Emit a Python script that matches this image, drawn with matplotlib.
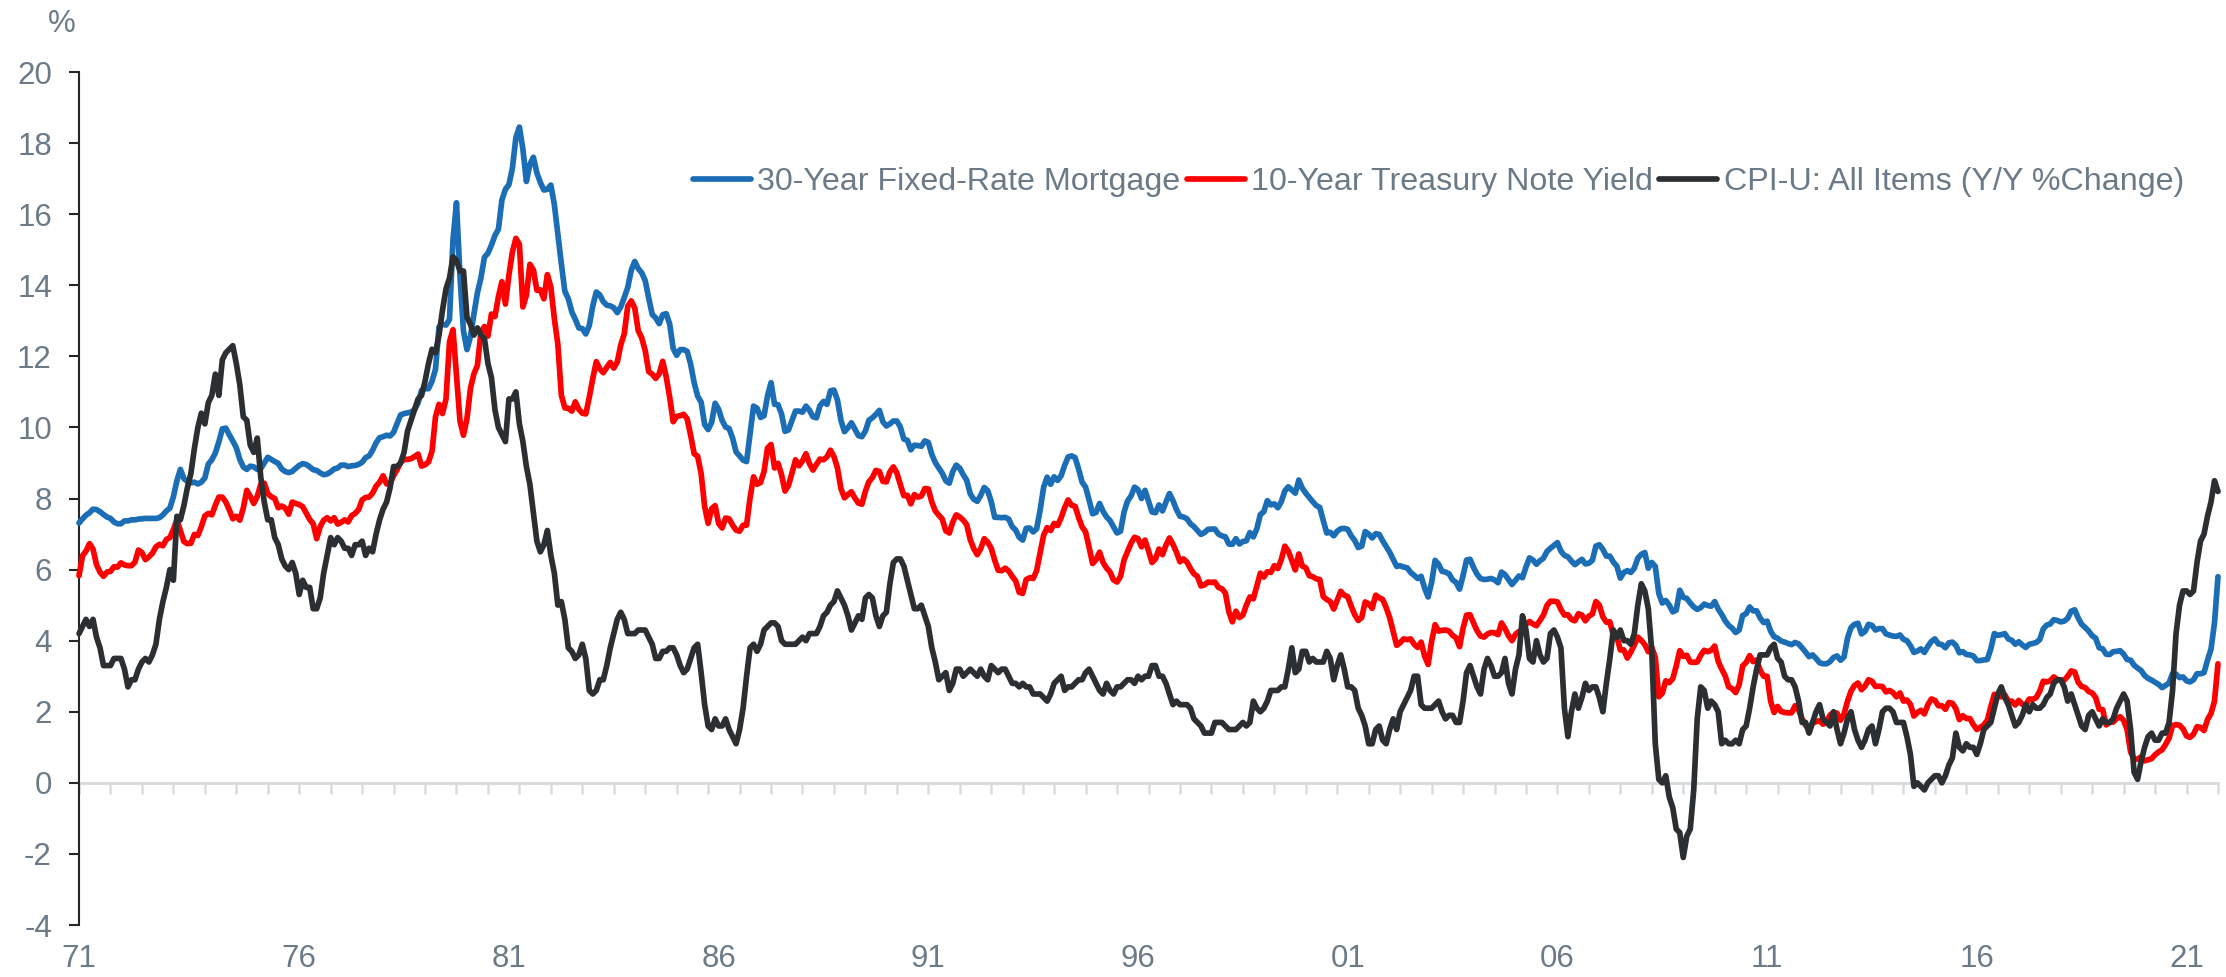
import numpy as np
import matplotlib.pyplot as plt

plt.rcParams['font.family'] = ['Liberation Sans', 'DejaVu Sans']
plt.rcParams['axes.unicode_minus'] = False

# monthly data, April 1971 .. April 2022
start_year = 1971.25

mortgage_30y = [
    7.31, 7.43, 7.53, 7.60, 7.70, 7.69, 7.63, 7.55, 7.48,  # 1971 (Apr-Dec)
    7.44, 7.34, 7.29, 7.29, 7.37, 7.37, 7.40, 7.40, 7.42, 7.43, 7.44, 7.44,
    7.44, 7.44, 7.46, 7.54, 7.65, 7.73, 8.05, 8.50, 8.82, 8.56, 8.48, 8.44,
    8.46, 8.41, 8.46, 8.58, 8.97, 9.09, 9.28, 9.59, 9.96, 9.98, 9.79, 9.62,
    9.43, 9.10, 8.89, 8.82, 8.91, 8.89, 8.82, 8.84, 9.00, 9.16, 9.10, 9.04,  # 1975
    8.99, 8.83, 8.76, 8.73, 8.76, 8.85, 8.93, 8.98, 8.96, 8.89, 8.81, 8.79,
    8.72, 8.67, 8.69, 8.75, 8.83, 8.86, 8.94, 8.94, 8.90, 8.92, 8.93, 8.96,
    9.02, 9.15, 9.20, 9.36, 9.57, 9.71, 9.74, 9.78, 9.76, 9.86, 10.11, 10.35,
    10.39, 10.41, 10.43, 10.50, 10.69, 11.04, 11.09, 11.09, 11.30, 11.64, 12.83, 12.90,
    12.88, 13.04, 15.28, 16.32, 14.26, 12.71, 12.19, 12.56, 13.20, 13.79, 14.21, 14.79,  # 1980
    14.90, 15.13, 15.40, 15.58, 16.40, 16.70, 16.83, 17.29, 18.16, 18.45, 17.83, 16.92,
    17.40, 17.60, 17.16, 16.89, 16.68, 16.70, 16.82, 16.27, 15.43, 14.61, 13.83, 13.62,
    13.25, 13.04, 12.80, 12.78, 12.63, 12.87, 13.42, 13.81, 13.73, 13.54, 13.44, 13.42,
    13.37, 13.23, 13.39, 13.65, 13.94, 14.42, 14.67, 14.47, 14.35, 14.13, 13.64, 13.18,
    13.08, 12.92, 13.17, 13.20, 12.91, 12.22, 12.03, 12.19, 12.19, 12.14, 11.78, 11.26,  # 1985
    10.88, 10.71, 10.08, 9.94, 10.14, 10.68, 10.51, 10.20, 10.01, 9.97, 9.70, 9.31,
    9.20, 9.08, 9.04, 9.83, 10.60, 10.54, 10.28, 10.33, 10.89, 11.26, 10.65, 10.64,
    10.38, 9.89, 9.93, 10.20, 10.46, 10.46, 10.43, 10.60, 10.48, 10.30, 10.27, 10.61,
    10.73, 10.65, 11.03, 11.05, 10.77, 10.20, 9.88, 9.99, 10.13, 9.95, 9.77, 9.74,
    9.90, 10.20, 10.27, 10.37, 10.48, 10.16, 10.04, 10.10, 10.18, 10.18, 10.01, 9.67,  # 1990
    9.64, 9.37, 9.50, 9.49, 9.47, 9.62, 9.58, 9.24, 9.01, 8.86, 8.71, 8.50,
    8.43, 8.76, 8.94, 8.85, 8.67, 8.51, 8.13, 7.98, 7.92, 8.09, 8.31, 8.22,
    7.91, 7.47, 7.47, 7.46, 7.47, 7.42, 7.21, 7.11, 6.91, 6.83, 7.16, 7.17,
    7.06, 7.15, 7.68, 8.32, 8.60, 8.40, 8.61, 8.51, 8.64, 8.93, 9.17, 9.20,
    9.15, 8.83, 8.46, 8.32, 7.96, 7.57, 7.61, 7.86, 7.64, 7.48, 7.38, 7.20,  # 1995
    7.03, 7.08, 7.62, 7.93, 8.07, 8.32, 8.25, 8.00, 8.23, 7.92, 7.62, 7.60,
    7.82, 7.65, 7.90, 8.14, 7.94, 7.69, 7.50, 7.48, 7.43, 7.29, 7.21, 7.10,
    6.99, 7.04, 7.13, 7.14, 7.14, 7.00, 6.95, 6.92, 6.72, 6.71, 6.87, 6.72,
    6.79, 6.81, 7.04, 6.92, 7.15, 7.55, 7.63, 7.94, 7.82, 7.85, 7.74, 7.91,
    8.21, 8.33, 8.24, 8.15, 8.52, 8.29, 8.15, 8.03, 7.91, 7.80, 7.75, 7.38,  # 2000
    7.03, 7.05, 6.95, 7.08, 7.15, 7.16, 7.13, 6.95, 6.82, 6.62, 6.66, 7.07,
    7.00, 6.89, 7.01, 6.99, 6.81, 6.65, 6.49, 6.29, 6.09, 6.11, 6.07, 6.05,
    5.92, 5.84, 5.75, 5.81, 5.48, 5.23, 5.63, 6.26, 6.15, 5.95, 5.93, 5.88,
    5.71, 5.64, 5.45, 5.83, 6.27, 6.29, 6.06, 5.87, 5.75, 5.72, 5.73, 5.75,
    5.71, 5.63, 5.93, 5.86, 5.72, 5.58, 5.70, 5.82, 5.77, 6.07, 6.33, 6.27,  # 2005
    6.15, 6.25, 6.32, 6.51, 6.60, 6.68, 6.76, 6.52, 6.40, 6.36, 6.24, 6.14,
    6.22, 6.29, 6.16, 6.18, 6.26, 6.66, 6.70, 6.57, 6.38, 6.38, 6.21, 6.10,
    5.76, 5.92, 5.97, 5.92, 6.04, 6.32, 6.43, 6.48, 6.04, 6.20, 6.09, 5.33,
    5.06, 5.13, 5.00, 4.81, 4.86, 5.42, 5.22, 5.19, 5.06, 4.95, 4.88, 4.93,
    5.03, 4.99, 4.97, 5.10, 4.89, 4.74, 4.56, 4.43, 4.35, 4.23, 4.30, 4.71,  # 2010
    4.76, 4.95, 4.84, 4.84, 4.64, 4.51, 4.55, 4.27, 4.11, 4.07, 3.99, 3.96,
    3.92, 3.89, 3.95, 3.91, 3.80, 3.68, 3.55, 3.60, 3.50, 3.38, 3.35, 3.35,
    3.41, 3.53, 3.57, 3.45, 3.54, 4.07, 4.37, 4.46, 4.49, 4.19, 4.26, 4.46,
    4.43, 4.30, 4.34, 4.34, 4.19, 4.16, 4.13, 4.12, 4.16, 4.04, 4.00, 3.86,
    3.67, 3.71, 3.77, 3.67, 3.84, 3.98, 4.05, 3.91, 3.89, 3.80, 3.94, 3.96,  # 2015
    3.87, 3.66, 3.69, 3.61, 3.60, 3.57, 3.44, 3.44, 3.46, 3.47, 3.77, 4.20,
    4.15, 4.17, 4.20, 4.05, 4.01, 3.90, 3.97, 3.88, 3.81, 3.90, 3.92, 3.95,
    4.03, 4.33, 4.44, 4.47, 4.59, 4.57, 4.53, 4.55, 4.63, 4.83, 4.87, 4.64,
    4.46, 4.37, 4.27, 4.14, 4.07, 3.80, 3.77, 3.62, 3.61, 3.69, 3.70, 3.72,
    3.62, 3.47, 3.45, 3.31, 3.23, 3.16, 3.02, 2.94, 2.89, 2.83, 2.77, 2.68,  # 2020
    2.74, 2.81, 3.08, 3.06, 2.96, 2.98, 2.87, 2.84, 2.90, 3.07, 3.07, 3.10,
    3.45, 3.76, 4.50, 5.80,  # 2022 (Jan-Apr)
]

treasury_10y = [
    5.83, 6.39, 6.52, 6.73, 6.58, 6.14, 5.93, 5.81, 5.93,  # 1971 (Apr-Dec)
    5.95, 6.08, 6.07, 6.19, 6.13, 6.11, 6.11, 6.21, 6.55, 6.48, 6.28, 6.36,
    6.46, 6.64, 6.71, 6.67, 6.85, 6.90, 7.13, 7.40, 7.09, 6.79, 6.73, 6.74,
    6.99, 6.96, 7.21, 7.51, 7.58, 7.54, 7.81, 8.04, 8.04, 7.90, 7.68, 7.43,
    7.50, 7.39, 7.73, 8.23, 8.06, 7.86, 8.06, 8.40, 8.43, 8.14, 8.05, 8.00,  # 1975
    7.74, 7.79, 7.73, 7.56, 7.90, 7.86, 7.83, 7.77, 7.59, 7.41, 7.29, 6.87,
    7.21, 7.39, 7.46, 7.37, 7.46, 7.28, 7.33, 7.40, 7.34, 7.52, 7.58, 7.69,
    7.96, 8.03, 8.04, 8.15, 8.35, 8.46, 8.64, 8.41, 8.42, 8.64, 8.81, 9.01,
    9.10, 9.10, 9.12, 9.18, 9.25, 8.91, 8.95, 9.03, 9.33, 10.30, 10.65, 10.39,
    10.80, 12.41, 12.75, 11.47, 10.18, 9.78, 10.25, 11.10, 11.51, 11.75, 12.68, 12.84,  # 1980
    12.57, 13.19, 13.12, 13.68, 14.10, 13.47, 14.28, 14.94, 15.32, 15.15, 13.39, 13.72,
    14.59, 14.43, 13.86, 13.87, 13.62, 14.30, 13.95, 13.06, 12.34, 10.91, 10.55, 10.54,
    10.46, 10.72, 10.51, 10.40, 10.38, 10.85, 11.38, 11.85, 11.65, 11.54, 11.69, 11.83,
    11.67, 11.84, 12.32, 12.63, 13.41, 13.56, 13.36, 12.72, 12.52, 12.16, 11.57, 11.50,
    11.38, 11.51, 11.86, 11.43, 10.85, 10.16, 10.31, 10.33, 10.37, 10.24, 9.78, 9.26,  # 1985
    9.19, 8.70, 7.78, 7.30, 7.71, 7.80, 7.30, 7.17, 7.45, 7.43, 7.25, 7.11,
    7.08, 7.25, 7.25, 8.02, 8.61, 8.40, 8.45, 8.76, 9.42, 9.52, 8.86, 8.99,
    8.67, 8.21, 8.37, 8.72, 9.09, 8.92, 9.06, 9.26, 8.98, 8.80, 8.96, 9.11,
    9.09, 9.17, 9.36, 9.18, 8.86, 8.28, 8.02, 8.11, 8.19, 8.01, 7.87, 7.84,
    8.21, 8.47, 8.59, 8.79, 8.76, 8.48, 8.47, 8.75, 8.89, 8.72, 8.39, 8.08,  # 1990
    8.09, 7.85, 8.11, 8.04, 8.07, 8.28, 8.27, 7.90, 7.65, 7.53, 7.42, 7.09,
    7.03, 7.34, 7.54, 7.48, 7.39, 7.26, 6.84, 6.59, 6.42, 6.59, 6.87, 6.77,
    6.60, 6.26, 5.98, 5.97, 6.04, 5.96, 5.81, 5.68, 5.36, 5.33, 5.72, 5.77,
    5.75, 5.97, 6.48, 6.97, 7.18, 7.10, 7.30, 7.24, 7.46, 7.74, 7.96, 7.81,
    7.78, 7.47, 7.20, 7.06, 6.63, 6.17, 6.28, 6.49, 6.20, 6.04, 5.93, 5.71,  # 1995
    5.65, 5.81, 6.27, 6.51, 6.74, 6.91, 6.87, 6.64, 6.83, 6.53, 6.20, 6.30,
    6.58, 6.42, 6.69, 6.89, 6.71, 6.49, 6.22, 6.30, 6.21, 6.03, 5.88, 5.81,
    5.54, 5.57, 5.65, 5.64, 5.65, 5.50, 5.46, 5.34, 4.81, 4.53, 4.83, 4.65,
    4.72, 5.00, 5.23, 5.18, 5.54, 5.90, 5.79, 5.94, 5.92, 6.11, 6.03, 6.28,
    6.66, 6.52, 6.26, 5.99, 6.44, 6.10, 6.05, 5.83, 5.80, 5.74, 5.72, 5.24,  # 2000
    5.16, 5.10, 4.89, 5.14, 5.39, 5.28, 5.24, 4.97, 4.73, 4.57, 4.65, 5.09,
    5.04, 4.91, 5.28, 5.21, 5.16, 4.93, 4.65, 4.26, 3.87, 3.94, 4.05, 4.03,
    4.05, 3.90, 3.81, 3.96, 3.57, 3.33, 3.98, 4.45, 4.27, 4.29, 4.30, 4.27,
    4.15, 4.08, 3.83, 4.35, 4.72, 4.73, 4.50, 4.28, 4.13, 4.10, 4.19, 4.23,
    4.22, 4.17, 4.50, 4.34, 4.14, 4.00, 4.18, 4.26, 4.20, 4.46, 4.54, 4.47,  # 2005
    4.42, 4.57, 4.72, 4.99, 5.11, 5.11, 5.09, 4.88, 4.72, 4.73, 4.60, 4.56,
    4.76, 4.72, 4.56, 4.69, 4.75, 5.10, 5.00, 4.67, 4.52, 4.53, 4.15, 4.10,
    3.74, 3.74, 3.51, 3.68, 3.88, 4.10, 4.01, 3.89, 3.69, 3.81, 3.53, 2.42,
    2.52, 2.87, 2.82, 2.93, 3.29, 3.72, 3.56, 3.59, 3.40, 3.39, 3.40, 3.59,
    3.73, 3.69, 3.73, 3.85, 3.42, 3.20, 3.01, 2.70, 2.65, 2.54, 2.76, 3.29,  # 2010
    3.39, 3.58, 3.41, 3.46, 3.17, 3.00, 3.00, 2.30, 1.98, 2.15, 2.01, 1.98,
    1.97, 1.97, 2.17, 2.05, 1.80, 1.62, 1.53, 1.68, 1.72, 1.75, 1.65, 1.72,
    1.91, 1.98, 1.96, 1.76, 1.93, 2.30, 2.58, 2.74, 2.81, 2.62, 2.72, 2.90,
    2.86, 2.71, 2.72, 2.71, 2.56, 2.60, 2.54, 2.42, 2.53, 2.30, 2.33, 2.21,
    1.88, 1.98, 2.04, 1.94, 2.20, 2.36, 2.32, 2.17, 2.17, 2.07, 2.26, 2.24,  # 2015
    2.09, 1.78, 1.89, 1.81, 1.81, 1.64, 1.50, 1.56, 1.63, 1.76, 2.14, 2.49,
    2.43, 2.42, 2.48, 2.30, 2.30, 2.19, 2.32, 2.21, 2.20, 2.36, 2.35, 2.40,
    2.58, 2.86, 2.84, 2.87, 2.98, 2.91, 2.89, 2.89, 3.00, 3.15, 3.12, 2.83,
    2.71, 2.68, 2.57, 2.53, 2.40, 2.07, 2.06, 1.63, 1.70, 1.71, 1.81, 1.86,
    1.76, 1.50, 0.87, 0.66, 0.67, 0.73, 0.62, 0.65, 0.68, 0.79, 0.87, 0.93,  # 2020
    1.08, 1.26, 1.61, 1.64, 1.62, 1.52, 1.32, 1.28, 1.37, 1.58, 1.56, 1.47,
    1.78, 1.95, 2.30, 3.35,  # 2022 (Jan-Apr)
]

cpi_yoy = [
    4.2, 4.4, 4.6, 4.4, 4.6, 4.1, 3.8, 3.3, 3.3,  # 1971 (Apr-Dec)
    3.3, 3.5, 3.5, 3.5, 3.2, 2.7, 2.9, 2.9, 3.2, 3.4, 3.5, 3.4,
    3.6, 3.9, 4.6, 5.1, 5.5, 6.0, 5.7, 7.5, 7.4, 7.8, 8.3, 8.7,
    9.4, 10.0, 10.4, 10.1, 10.7, 10.9, 11.5, 10.9, 11.9, 12.1, 12.2, 12.3,
    11.8, 11.2, 10.3, 10.2, 9.5, 9.3, 9.7, 8.6, 7.9, 7.4, 7.4, 6.9,  # 1975
    6.7, 6.3, 6.1, 6.0, 6.2, 5.9, 5.3, 5.7, 5.5, 5.5, 4.9, 4.9,
    5.2, 5.9, 6.4, 6.9, 6.7, 6.9, 6.8, 6.6, 6.6, 6.4, 6.7, 6.7,
    6.8, 6.4, 6.6, 6.5, 7.0, 7.4, 7.7, 7.9, 8.3, 8.9, 8.9, 9.0,
    9.3, 9.9, 10.2, 10.5, 10.8, 10.9, 11.3, 11.8, 12.2, 12.1, 12.6, 13.3,
    13.9, 14.2, 14.8, 14.7, 14.4, 14.4, 13.1, 12.9, 12.6, 12.8, 12.6, 12.5,  # 1980
    11.8, 11.4, 10.5, 10.0, 9.8, 9.6, 10.8, 10.8, 11.0, 10.1, 9.6, 8.9,
    8.4, 7.6, 6.8, 6.5, 6.7, 7.1, 6.4, 5.9, 5.0, 5.1, 4.6, 3.8,
    3.7, 3.5, 3.6, 3.9, 3.5, 2.6, 2.5, 2.6, 2.9, 2.9, 3.3, 3.8,
    4.2, 4.6, 4.8, 4.6, 4.2, 4.2, 4.2, 4.3, 4.3, 4.3, 4.1, 3.9,
    3.5, 3.5, 3.7, 3.7, 3.8, 3.8, 3.6, 3.3, 3.1, 3.2, 3.5, 3.8,  # 1985
    3.9, 3.1, 2.2, 1.6, 1.5, 1.8, 1.6, 1.6, 1.8, 1.5, 1.3, 1.1,
    1.5, 2.1, 3.0, 3.8, 3.9, 3.7, 3.9, 4.3, 4.4, 4.5, 4.5, 4.4,
    4.0, 3.9, 3.9, 3.9, 3.9, 4.0, 4.1, 4.0, 4.2, 4.2, 4.2, 4.4,
    4.7, 4.8, 5.0, 5.1, 5.4, 5.2, 5.0, 4.7, 4.3, 4.5, 4.7, 4.6,
    5.2, 5.3, 5.2, 4.7, 4.4, 4.7, 4.8, 5.6, 6.2, 6.3, 6.3, 6.1,  # 1990
    5.7, 5.3, 4.9, 4.9, 5.0, 4.7, 4.4, 3.8, 3.4, 2.9, 3.0, 3.1,
    2.6, 2.8, 3.2, 3.2, 3.0, 3.1, 3.2, 3.1, 3.0, 3.2, 3.0, 2.9,
    3.3, 3.2, 3.1, 3.2, 3.2, 3.0, 2.8, 2.8, 2.7, 2.8, 2.7, 2.7,
    2.5, 2.5, 2.5, 2.4, 2.3, 2.5, 2.8, 2.9, 3.0, 2.6, 2.7, 2.7,
    2.8, 2.9, 2.9, 3.1, 3.2, 3.0, 2.8, 2.6, 2.5, 2.8, 2.6, 2.5,  # 1995
    2.7, 2.7, 2.8, 2.9, 2.9, 2.8, 3.0, 2.9, 3.0, 3.0, 3.3, 3.3,
    3.0, 3.0, 2.8, 2.5, 2.2, 2.3, 2.2, 2.2, 2.2, 2.1, 1.8, 1.7,
    1.6, 1.4, 1.4, 1.4, 1.7, 1.7, 1.7, 1.6, 1.5, 1.5, 1.5, 1.6,
    1.7, 1.6, 1.7, 2.3, 2.1, 2.0, 2.1, 2.3, 2.6, 2.6, 2.6, 2.7,
    2.7, 3.2, 3.8, 3.1, 3.2, 3.7, 3.7, 3.4, 3.5, 3.4, 3.4, 3.4,  # 2000
    3.7, 3.5, 2.9, 3.3, 3.6, 3.2, 2.7, 2.7, 2.6, 2.1, 1.9, 1.6,
    1.1, 1.1, 1.5, 1.6, 1.2, 1.1, 1.5, 1.8, 1.5, 2.0, 2.2, 2.4,
    2.6, 3.0, 3.0, 2.2, 2.1, 2.1, 2.1, 2.2, 2.3, 2.0, 1.8, 1.9,
    1.9, 1.7, 1.7, 2.3, 3.1, 3.3, 3.0, 2.7, 2.5, 3.2, 3.5, 3.3,
    3.0, 3.0, 3.1, 3.5, 2.8, 2.5, 3.2, 3.6, 4.7, 4.3, 3.5, 3.4,  # 2005
    4.0, 3.6, 3.4, 3.5, 4.2, 4.3, 4.1, 3.8, 2.1, 1.3, 2.0, 2.5,
    2.1, 2.4, 2.8, 2.6, 2.7, 2.7, 2.4, 2.0, 2.8, 3.5, 4.3, 4.1,
    4.3, 4.0, 4.0, 3.9, 4.2, 5.0, 5.6, 5.4, 4.9, 3.7, 1.1, 0.1,
    0.0, 0.2, -0.4, -0.7, -1.3, -1.4, -2.1, -1.5, -1.3, -0.2, 1.8, 2.7,
    2.6, 2.1, 2.3, 2.2, 2.0, 1.1, 1.2, 1.1, 1.1, 1.2, 1.1, 1.5,  # 2010
    1.6, 2.1, 2.7, 3.2, 3.6, 3.6, 3.6, 3.8, 3.9, 3.5, 3.4, 3.0,
    2.9, 2.9, 2.7, 2.3, 1.7, 1.7, 1.4, 1.7, 2.0, 2.2, 1.8, 1.7,
    1.6, 2.0, 1.5, 1.1, 1.4, 1.8, 2.0, 1.5, 1.2, 1.0, 1.2, 1.5,
    1.6, 1.1, 1.5, 2.0, 2.1, 2.1, 2.0, 1.7, 1.7, 1.7, 1.3, 0.8,
    -0.1, 0.0, -0.1, -0.2, 0.0, 0.1, 0.2, 0.2, 0.0, 0.2, 0.5, 0.7,  # 2015
    1.4, 1.0, 0.9, 1.1, 1.0, 1.0, 0.8, 1.1, 1.5, 1.6, 1.7, 2.1,
    2.5, 2.7, 2.4, 2.2, 1.9, 1.6, 1.7, 1.9, 2.2, 2.0, 2.2, 2.1,
    2.1, 2.2, 2.4, 2.5, 2.8, 2.9, 2.9, 2.7, 2.3, 2.5, 2.2, 1.9,
    1.6, 1.5, 1.9, 2.0, 1.8, 1.6, 1.8, 1.7, 1.7, 1.8, 2.1, 2.3,
    2.5, 2.3, 1.5, 0.3, 0.1, 0.6, 1.0, 1.3, 1.4, 1.2, 1.2, 1.4,  # 2020
    1.4, 1.7, 2.6, 4.2, 5.0, 5.4, 5.4, 5.3, 5.4, 6.2, 6.8, 7.0,
    7.5, 7.9, 8.5, 8.2,  # 2022 (Jan-Apr)
]

series_labels = ['30-Year Fixed-Rate Mortgage', '10-Year Treasury Note Yield',
                 'CPI-U: All Items (Y/Y %Change)']
series_colours = ['#1b6db5', '#ff0000', '#2c2f32']

year_labels = ['71', '76', '81', '86', '91', '96', '01', '06', '11', '16', '21']

text_grey = '#6c7a88'
axis_grey = '#d9dcdf'

months = start_year + np.arange(len(mortgage_30y)) / 12.0

fig = plt.figure(figsize=(22.26, 9.77), dpi=100)
ax = fig.add_axes([0.0355, 0.0532, 0.9609, 0.8731])

for values, label, colour in zip([mortgage_30y, treasury_10y, cpi_yoy], series_labels, series_colours):
    ax.plot(months, values, color=colour, lw=4.1, label=label, zorder=3,
            solid_joinstyle='round', solid_capstyle='round', clip_on=False)

ax.set_xlim(months[0], months[-1])
ax.set_ylim(-4, 20)

for side in ['top', 'right', 'bottom']:
    ax.spines[side].set_visible(False)
ax.spines['left'].set_color('#262626')
ax.spines['left'].set_linewidth(1.5)

ax.set_yticks(np.arange(-4, 21, 2))
ax.tick_params(axis='y', direction='out', length=7.5, width=1.5, color='#262626',
               labelsize=22.5, labelcolor=text_grey, pad=12)

# year labels sit near mid-year, first one at the start of the data
label_pos = [months[0]] + [1976.5 + 5 * i for i in range(len(year_labels) - 1)]
ax.set_xticks(label_pos, year_labels)
ax.tick_params(axis='x', length=0, labelsize=22.5, labelcolor=text_grey, pad=14)

# zero line with small ticks every 9 months
zero_axis = ax.secondary_xaxis((0 - (-4)) / 24)
zero_axis.spines['bottom'].set_color(axis_grey)
zero_axis.spines['bottom'].set_linewidth(2.2)
zero_axis.set_xticks(np.arange(months[0], months[-1] + 0.01, 0.75))
zero_axis.tick_params(axis='x', direction='out', length=8, width=1.8, color=axis_grey,
                      labelbottom=False)

fig.text(62 / 2226, 1 - 24 / 977, '%', ha='center', va='center', fontsize=22.5, color=text_grey)

ax.legend(loc='center right', bbox_to_anchor=(2184 / 2226, 1 - 182 / 977),
          bbox_transform=fig.transFigure, ncol=3, frameon=False, fontsize=23.2,
          labelcolor=text_grey, handlelength=1.8, handletextpad=0.2, columnspacing=0.2,
          borderpad=0, borderaxespad=0)

fig.savefig('out.png', dpi=100)
